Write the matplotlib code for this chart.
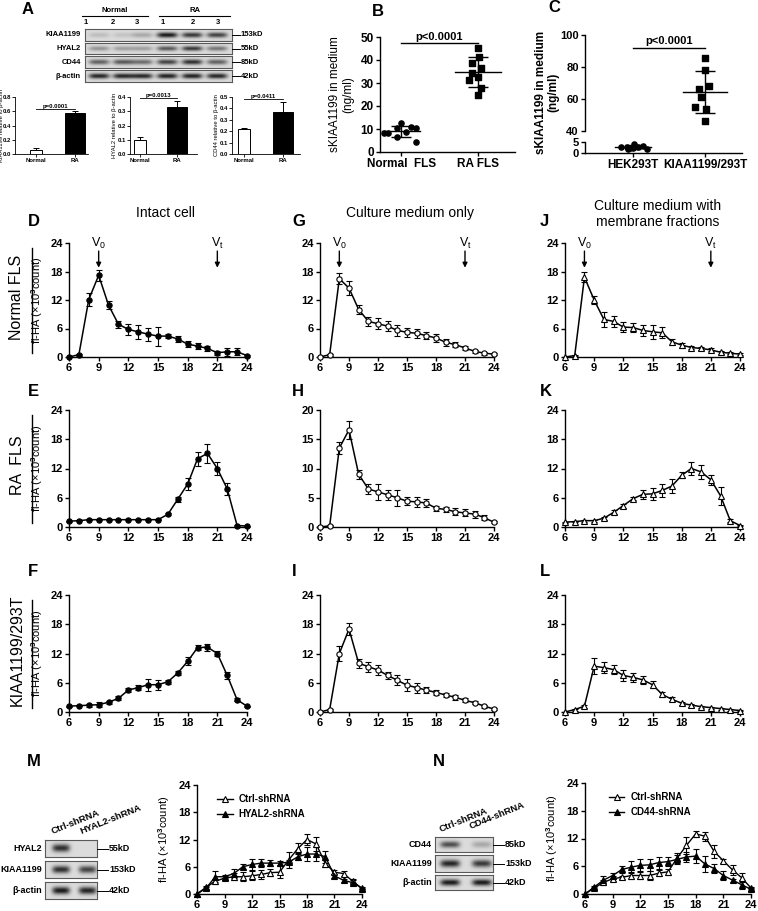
import numpy as np
import matplotlib
matplotlib.use('Agg')
import matplotlib.pyplot as plt
from matplotlib.lines import Line2D

plt.rcParams['font.family'] = 'Liberation Sans'
plt.rcParams['font.weight'] = 'bold'
plt.rcParams['mathtext.fontset'] = 'custom'
plt.rcParams['mathtext.rm'] = 'Liberation Sans'
plt.rcParams['mathtext.bf'] = 'Liberation Sans:bold'
plt.rcParams['mathtext.default'] = 'regular'

# ---------------- data ----------------
# A: western blot densities (0..1) and quantification
blot_a_rows = ['KIAA1199', 'HYAL2', 'CD44', 'β-actin']
blot_a_sizes = ['153kD', '55kD', '85kD', '42kD']
blot_a_dens = [[0.15, 0.12, 0.25, 0.95, 0.80, 0.75],
               [0.35, 0.30, 0.30, 0.65, 0.80, 0.50],
               [0.60, 0.65, 0.55, 0.75, 0.85, 0.60],
               [0.90, 0.90, 0.90, 0.92, 0.92, 0.90]]
bar_groups = ['Normal', 'RA']
kiaa_rel = [0.05, 0.57]
kiaa_rel_err = [0.03, 0.035]
hyal2_rel = [0.10, 0.33]
hyal2_rel_err = [0.02, 0.045]
cd44_rel = [0.22, 0.37]
cd44_rel_err = [0.01, 0.085]

# B: sKIAA1199 in medium (ng/ml)
b_groups = ['Normal  FLS', 'RA FLS']
b_normal = [8.1, 8.1, 10.3, 12.5, 8.8, 11.0, 10.3, 4.5, 6.7]
b_normal_dx = [-0.23, -0.18, -0.06, 0.0, 0.06, 0.12, 0.19, 0.19, -0.06]
b_ra = [45.1, 41.4, 38.6, 36.4, 34.2, 32.7, 31.3, 27.7, 24.8]
b_ra_dx = [0.0, 0.02, -0.07, 0.04, -0.07, 0.0, -0.11, 0.04, 0.0]

# C
c_groups = ['HEK293T', 'KIAA1199/293T']
c_hek = [2.9, 2.9, 2.1, 4.1, 2.9, 3.2, 1.7, 1.8, 2.1]
c_hek_dx = [-0.16, -0.09, -0.04, 0.02, 0.07, 0.14, 0.19, -0.07, 0.0]
c_kiaa = [85.7, 78.0, 68.0, 66.0, 61.0, 55.0, 54.0, 46.0]
c_kiaa_dx = [0.0, 0.0, 0.05, -0.09, -0.05, -0.14, 0.02, 0.0]

# D-L: gel filtration elution profiles, fl-HA (x10^3 count)
fractions = [6, 7, 8, 9, 10, 11, 12, 13, 14, 15, 16, 17, 18, 19, 20, 21, 22, 23, 24]
D_y = [0, 0.5, 12.1, 17.2, 10.9, 6.9, 5.8, 5.3, 4.8, 4.4, 4.4, 3.8, 2.7, 2.3, 1.8, 0.9, 1.1, 1.1, 0.3]
D_err = [0.1, 0.2, 1.3, 1.2, 0.8, 0.7, 1.1, 1.5, 1.4, 2.0, 0.5, 0.6, 0.6, 0.6, 0.6, 0.4, 0.8, 0.7, 0.2]
E_y = [1.2, 1.3, 1.5, 1.5, 1.5, 1.5, 1.5, 1.5, 1.5, 1.5, 2.6, 5.7, 8.8, 14.0, 15.1, 12.0, 7.8, 0.3, 0.2]
E_err = [0.1, 0.1, 0.1, 0.1, 0.1, 0.1, 0.1, 0.1, 0.1, 0.1, 0.2, 0.5, 1.3, 1.4, 2.0, 1.3, 1.2, 0.2, 0.1]
F_y = [1.2, 1.3, 1.4, 1.5, 2.0, 2.8, 4.5, 5.0, 5.6, 5.6, 6.2, 8.0, 10.4, 13.2, 13.3, 12.0, 7.5, 2.5, 1.2]
F_err = [0.1, 0.1, 0.3, 0.5, 0.3, 0.4, 0.4, 0.5, 1.2, 1.0, 0.4, 0.5, 0.8, 0.5, 0.7, 0.6, 0.8, 0.3, 0.1]
G_y = [0, 0.5, 16.5, 14.5, 10.0, 7.5, 7.0, 6.5, 5.6, 5.2, 5.0, 4.5, 4.0, 3.1, 2.6, 1.9, 1.2, 0.8, 0.6]
G_err = [0.1, 0.2, 1.2, 1.5, 1.0, 1.0, 1.2, 1.0, 1.1, 1.0, 1.0, 0.8, 0.8, 0.7, 0.5, 0.5, 0.3, 0.3, 0.2]
H_y = [0, 0.2, 13.5, 16.6, 9.0, 6.5, 6.0, 5.5, 5.0, 4.4, 4.3, 4.1, 3.2, 3.0, 2.6, 2.4, 2.2, 1.6, 0.8]
H_err = [0.1, 0.1, 1.0, 1.5, 0.8, 0.8, 1.4, 0.8, 1.4, 0.7, 0.8, 0.7, 0.4, 0.4, 0.6, 0.6, 0.6, 0.4, 0.2]
I_y = [0, 0.5, 12.0, 17.0, 10.0, 9.3, 8.6, 7.5, 6.5, 5.5, 5.0, 4.5, 4.0, 3.5, 3.0, 2.4, 1.9, 1.2, 0.6]
I_err = [0.1, 0.2, 1.5, 1.2, 0.9, 1.0, 1.0, 0.8, 1.0, 1.2, 1.0, 0.7, 0.6, 0.5, 0.5, 0.4, 0.3, 0.3, 0.2]
J_y = [0, 0.3, 16.8, 12.0, 7.9, 7.5, 6.3, 6.2, 5.6, 5.3, 5.1, 3.2, 2.5, 2.0, 1.8, 1.5, 1.0, 0.8, 0.6]
J_err = [0.1, 0.1, 1.0, 0.8, 1.5, 1.2, 1.0, 0.9, 1.2, 1.5, 1.2, 0.6, 0.5, 0.4, 0.4, 0.3, 0.3, 0.2, 0.2]
K_y = [1.0, 1.1, 1.3, 1.3, 1.8, 3.0, 4.4, 5.8, 6.7, 6.8, 7.5, 8.4, 10.6, 12.0, 11.3, 9.7, 6.4, 1.3, 0.3]
K_err = [0.1, 0.1, 0.2, 0.2, 0.3, 0.4, 0.4, 0.3, 0.9, 1.3, 1.3, 1.4, 0.6, 1.4, 1.5, 1.0, 1.8, 0.3, 0.1]
L_y = [0, 0.5, 1.2, 9.4, 9.1, 8.7, 7.5, 7.1, 6.6, 5.6, 3.6, 2.6, 1.8, 1.4, 1.1, 0.9, 0.7, 0.5, 0.3]
L_err = [0.1, 0.2, 0.3, 1.6, 1.2, 1.0, 1.1, 0.9, 0.8, 0.7, 0.6, 0.4, 0.3, 0.3, 0.2, 0.2, 0.2, 0.2, 0.1]

# M / N: knockdown
m_rows = ['HYAL2', 'KIAA1199', 'β-actin']
m_sizes = ['55kD', '153kD', '42kD']
m_dens = [[0.85, 0.0], [0.85, 0.75], [0.95, 0.9]]
M_ctrl = [0, 1.5, 2.8, 3.5, 3.8, 3.8, 4.0, 4.3, 4.7, 4.8, 7.5, 10.0, 12.0, 11.0, 6.7, 4.8, 4.5, 2.8, 1.2]
M_ctrl_err = [0.1, 0.3, 0.5, 0.4, 0.8, 1.0, 1.0, 0.9, 0.8, 1.3, 1.8, 1.3, 1.3, 1.5, 0.8, 0.5, 0.5, 0.4, 0.2]
M_kd = [0, 1.3, 3.8, 3.8, 4.5, 6.0, 6.5, 6.8, 6.8, 6.8, 7.0, 8.2, 8.8, 8.8, 8.2, 4.0, 3.0, 2.5, 1.3]
M_kd_err = [0.1, 0.3, 1.2, 0.3, 1.0, 0.5, 1.3, 0.8, 0.7, 0.5, 0.5, 0.8, 1.5, 1.5, 1.3, 0.4, 0.3, 0.5, 0.2]
n_rows = ['CD44', 'KIAA1199', 'β-actin']
n_sizes = ['85kD', '153kD', '42kD']
n_dens = [[0.7, 0.25], [0.9, 0.8], [0.95, 0.95]]
N_ctrl = [0, 1.3, 2.5, 3.3, 3.6, 4.0, 4.0, 4.0, 4.5, 4.8, 7.8, 10.5, 13.0, 12.5, 9.2, 7.2, 5.2, 3.5, 1.3]
N_ctrl_err = [0.1, 0.3, 0.5, 0.5, 0.4, 0.8, 0.8, 1.0, 0.6, 0.6, 1.0, 1.8, 0.7, 1.0, 1.5, 0.4, 1.0, 1.0, 0.3]
N_kd = [0, 1.5, 3.0, 4.0, 5.3, 5.8, 6.2, 6.3, 6.8, 7.0, 7.5, 8.0, 8.2, 6.5, 5.5, 4.0, 3.0, 2.0, 1.0]
N_kd_err = [0.1, 0.3, 0.8, 0.6, 0.7, 1.3, 1.3, 1.3, 1.3, 1.0, 1.0, 1.0, 1.5, 1.8, 1.0, 1.0, 0.3, 1.0, 0.3]

W, H = 758, 911
fig = plt.figure(figsize=(W / 100, H / 100), dpi=100)


def box(x0, y0, x1, y1):
    return fig.add_axes([x0 / W, 1 - y1 / H, (x1 - x0) / W, (y1 - y0) / H])


def ftext(x, y, s, **kw):
    fig.text(x / W, 1 - y / H, s, **kw)


def fline(x0, y0, x1, y1, lw=1.0):
    fig.add_artist(Line2D([x0 / W, x1 / W], [1 - y0 / H, 1 - y1 / H],
                          transform=fig.transFigure, color='black', lw=lw))


def clean(ax, size=8):
    ax.spines['top'].set_visible(False)
    ax.spines['right'].set_visible(False)
    ax.tick_params(labelsize=size, length=3, width=1, pad=1.5)
    for s in ('left', 'bottom'):
        ax.spines[s].set_linewidth(1)


def blot(ax, lanes, dens, half_w):
    xs = np.linspace(0, 1, 300)
    ys = np.linspace(0, 1, 60)
    X, Y = np.meshgrid(xs, ys)
    dark = np.zeros_like(X)
    for c, d in zip(lanes, dens):
        dark += d * np.exp(-np.abs((X - c) / half_w) ** 4) * np.exp(-((Y - 0.5) / 0.22) ** 2)
    img = 0.86 - 0.8 * np.clip(dark, 0, 1)
    ax.imshow(img, cmap='gray', vmin=0, vmax=1, extent=(0, 1, 0, 1),
              aspect='auto', interpolation='bilinear')
    ax.set_xticks([])
    ax.set_yticks([])
    for s in ax.spines.values():
        s.set_linewidth(0.8)
        s.set_color('0.35')


# ---------------- A ----------------
ftext(22, 9, 'A', fontsize=12, va='center')
ftext(115, 10, 'Normal', fontsize=5.5, ha='center', va='center')
ftext(195, 10, 'RA', fontsize=5.5, ha='center', va='center')
fline(82, 16, 148, 16, 0.8)
fline(159, 16, 230, 16, 0.8)
for lx, lab in zip([86, 113, 137, 163, 193, 218], ['1', '2', '3', '1', '2', '3']):
    ftext(lx, 23, lab, fontsize=5.5, ha='center', va='center')
a_rows_y = [(29, 41), (43, 54), (56, 68), (70, 82)]
for (y0, y1), name, size, dens in zip(a_rows_y, blot_a_rows, blot_a_sizes, blot_a_dens):
    ax = box(85, y0, 232, y1)
    blot(ax, [0.095, 0.26, 0.39, 0.56, 0.73, 0.90], dens, 0.07)
    yc = (y0 + y1) / 2
    ftext(81, yc, name, fontsize=5.5, ha='right', va='center')
    fline(232, yc, 240, yc, 0.7)
    ftext(241, yc, size, fontsize=5.5, ha='left', va='center')


def small_bar(x0, x1, cn, cr, vals, errs, ymax, step, p_y, p_txt, ylab, ylab_x):
    ax = box(x0, 97, x1, 154)
    u = cr - cn
    ax.set_xlim((x0 - cn) / u, (x1 - cn) / u)
    ax.bar([0, 1], vals, width=[12 / u, 20 / u], color=['white', 'black'],
           edgecolor='black', lw=0.7)
    ax.errorbar([0, 1], vals, yerr=[[0, 0], errs], fmt='none', ecolor='black',
                capsize=2, elinewidth=0.7, capthick=0.7)
    ax.set_ylim(0, ymax)
    ticks = np.arange(0, ymax + 1e-9, step)
    ax.set_yticks(ticks)
    ax.set_yticklabels(['%.1f' % t for t in ticks])
    ax.set_xticks([0, 1])
    ax.set_xticklabels(bar_groups)
    clean(ax, 4.3)
    ax.tick_params(length=2, width=0.6, pad=1)
    for s in ('left', 'bottom'):
        ax.spines[s].set_linewidth(0.6)
    ax.plot([0, 1], [p_y, p_y], color='black', lw=0.6)
    ax.text(0.5, p_y, p_txt, fontsize=4.3, ha='center', va='bottom')
    ax.set_ylabel(ylab, fontsize=4.2, labelpad=1)
    ax.yaxis.set_label_coords((ylab_x - x0) / (x1 - x0), 0.5)


small_bar(15, 88, 36, 75, kiaa_rel, kiaa_rel_err, 0.8, 0.2, 0.63, 'p=0.0001',
          'KIAA1199 relative to β-actin', 4)
small_bar(130, 197, 140, 177, hyal2_rel, hyal2_rel_err, 0.4, 0.1, 0.39, 'p=0.0013',
          'HYAL2 relative to β-actin', 117)
small_bar(232, 300, 244, 283, cd44_rel, cd44_rel_err, 0.5, 0.1, 0.48, 'p=0.0411',
          'CD44 relative to β-actin', 219)


def mean_sd(ax, x, vals, half, cap):
    m = np.mean(vals)
    sd = np.std(vals, ddof=1)
    ax.plot([x - half, x + half], [m, m], color='black', lw=1)
    ax.errorbar([x], [m], yerr=[sd], fmt='none', ecolor='black', elinewidth=1,
                capsize=cap, capthick=1)


# ---------------- B ----------------
ftext(372, 12, 'B', fontsize=12, va='center')
axb = box(380, 37, 515, 152)
axb.set_xlim(-0.28, 1.49)
axb.set_ylim(0, 50)
axb.scatter(np.array(b_normal_dx), b_normal, s=14, marker='o', color='black', zorder=3)
axb.scatter(1 + np.array(b_ra_dx), b_ra, s=16, marker='s', color='black', zorder=3)
mean_sd(axb, 0, b_normal, 0.25, 7)
mean_sd(axb, 1, b_ra, 0.3, 7)
axb.plot([0, 1], [47.5, 47.5], color='black', lw=1)
axb.text(0.5, 48.0, 'p<0.0001', fontsize=8, ha='center', va='bottom')
axb.set_yticks([0, 10, 20, 30, 40, 50])
axb.set_xticks([0, 1])
axb.set_xticklabels(b_groups)
clean(axb, 8.5)
axb.set_ylabel('sKIAA1199 in medium\n(ng/ml)', fontsize=8.5, linespacing=1.1)
axb.yaxis.set_label_coords(-0.19, 0.5)

# ---------------- C ----------------
ftext(548, 8, 'C', fontsize=12, va='center')
u_c = 72.0
c_xlim = ((585 - 633) / u_c, (742 - 633) / u_c)
axc_top = box(585, 35, 742, 131)
axc_bot = box(585, 142, 742, 153)
for ax in (axc_top, axc_bot):
    ax.set_xlim(*c_xlim)
axc_top.set_ylim(40, 100)
axc_bot.set_ylim(0, 5)
axc_bot.scatter(np.array(c_hek_dx), c_hek, s=14, marker='o', color='black', zorder=3, clip_on=False)
axc_top.scatter(1 + np.array(c_kiaa_dx), c_kiaa, s=16, marker='s', color='black', zorder=3)
mean_sd(axc_bot, 0, c_hek, 0.25, 6)
mean_sd(axc_top, 1, c_kiaa, 0.3, 7)
axc_top.plot([0, 1], [92, 92], color='black', lw=1)
axc_top.text(0.5, 93, 'p<0.0001', fontsize=8, ha='center', va='bottom')
axc_top.set_yticks([40, 60, 80, 100])
axc_top.set_xticks([])
axc_bot.set_yticks([0, 5])
axc_bot.set_xticks([0, 1])
axc_bot.set_xticklabels(c_groups)
clean(axc_top, 8)
clean(axc_bot, 8)
axc_bot.tick_params(axis='x', labelsize=8.5)
axc_top.spines['bottom'].set_visible(False)
ftext(547, 92, 'sKIAA1199 in medium\n(ng/ml)', fontsize=8.5, rotation=90,
      ha='center', va='center', linespacing=1.1)

# ---------------- D - L ----------------
cols = [(69, 247), (320, 494), (565, 740)]
rows = [(243, 357), (410, 527), (595, 712)]
profiles = [[(D_y, D_err), (G_y, G_err), (J_y, J_err)],
            [(E_y, E_err), (H_y, H_err), (K_y, K_err)],
            [(F_y, F_err), (I_y, I_err), (L_y, L_err)]]
col_marker = [('o', 'black'), ('o', 'white'), ('^', 'white')]
letters = [['D', 'G', 'J'], ['E', 'H', 'K'], ['F', 'I', 'L']]
letter_x = [28, 292, 540]
letter_y = [222, 392, 572]
row_names = ['Normal FLS', 'RA  FLS', 'KIAA1199/293T']
v0_pos = [9, 8, 8]

for r, (y0, y1) in enumerate(rows):
    for c, (x0, x1) in enumerate(cols):
        ax = box(x0, y0, x1, y1)
        yv, ye = profiles[r][c]
        mk, fc = col_marker[c]
        ax.errorbar(fractions, yv, yerr=ye, color='black', lw=1.1, marker=mk,
                    ms=3.8 if mk == 'o' else 4.2, mfc=fc, mec='black', mew=0.8,
                    capsize=2, elinewidth=0.8, capthick=0.8, clip_on=False, zorder=3)
        ymax, step = (20, 5) if letters[r][c] == 'H' else (24, 6)
        ax.set_xlim(6, 24)
        ax.set_ylim(0, ymax)
        ax.set_xticks([6, 9, 12, 15, 18, 21, 24])
        ax.set_yticks(list(range(0, ymax + 1, step)))
        clean(ax, 8)
        ftext(letter_x[c], letter_y[r], letters[r][c], fontsize=12, va='center')
        if r == 0:
            for xv, sub in ((v0_pos[c], '0'), (21, 't')):
                ax.annotate('', xy=(xv, 18.8), xytext=(xv, 22.3),
                            arrowprops=dict(arrowstyle='-|>', color='black', lw=1,
                                            mutation_scale=7, shrinkA=0, shrinkB=0),
                            annotation_clip=False)
                ax.text(xv, 22.4, 'V$_{%s}$' % sub, fontsize=9, fontweight='normal',
                        ha='center', va='bottom', clip_on=False)
        if c == 0:
            ax.set_ylabel('fl-HA (×10$^{\\mathbf{3}}$count)', fontsize=8)
            ax.yaxis.set_label_coords(-0.135, 0.5)
    fline(32, y0 + 5, 32, y1 - 4, 1)
    ftext(17, (y0 + y1) / 2 - 3, row_names[r], fontsize=11.5, fontweight='normal',
          rotation=90, ha='center', va='center')

ftext(165, 213, 'Intact cell', fontsize=10, fontweight='normal', ha='center', va='center')
ftext(410, 213, 'Culture medium only', fontsize=10, fontweight='normal', ha='center', va='center')
ftext(658, 214, 'Culture medium with\nmembrane fractions', fontsize=10, fontweight='normal',
      ha='center', va='center', linespacing=1.1)

# ---------------- M / N ----------------


def knock_panel(letter, lx, blot_x, rows_y, names, sizes, dens, lanes, lane_labels,
                lane_xy, chart_box, ctrl, ctrl_err, kd, kd_err, kd_label, legend_xy):
    ftext(lx, 762, letter, fontsize=12, va='center')
    bx0, bx1 = blot_x
    for (y0, y1), name, size, d in zip(rows_y, names, sizes, dens):
        ax = box(bx0, y0, bx1, y1)
        blot(ax, lanes, d, 0.17)
        yc = (y0 + y1) / 2
        ftext(bx0 - 3, yc, name, fontsize=6.5, ha='right', va='center')
        fline(bx1, yc, bx1 + 11, yc, 0.7)
        ftext(bx1 + 12, yc, size, fontsize=6.5, ha='left', va='center')
    for (tx, ty), lab in zip(lane_xy, lane_labels):
        ftext(tx, ty, lab, fontsize=6.8, rotation=22, ha='left', va='bottom',
              rotation_mode='anchor')
    x0, y0, x1, y1 = chart_box
    ax = box(x0, y0, x1, y1)
    ax.errorbar(fractions, ctrl, yerr=ctrl_err, color='black', lw=1.0, marker='^', ms=4,
                mfc='white', mec='black', mew=0.8, capsize=2, elinewidth=0.8,
                capthick=0.8, clip_on=False, label='Ctrl-shRNA', zorder=3)
    ax.errorbar(fractions, kd, yerr=kd_err, color='black', lw=1.0, marker='^', ms=4,
                mfc='black', mec='black', mew=0.8, capsize=2, elinewidth=0.8,
                capthick=0.8, clip_on=False, label=kd_label, zorder=3)
    ax.set_xlim(6, 24)
    ax.set_ylim(0, 24)
    ax.set_xticks([6, 9, 12, 15, 18, 21, 24])
    ax.set_yticks([0, 6, 12, 18, 24])
    clean(ax, 8)
    ax.set_ylabel('fl-HA (×10$^{\\mathbf{3}}$count)', fontsize=8)
    ax.yaxis.set_label_coords(-0.15, 0.5)
    h, l = ax.get_legend_handles_labels()
    h = [hh[0] for hh in h]
    ax.legend(h, l, loc='upper left', bbox_to_anchor=legend_xy, frameon=False,
              fontsize=7, handlelength=1.6, handletextpad=0.6, borderaxespad=0,
              labelspacing=0.5)


knock_panel('M', 27, (45, 97), [(840, 857), (861, 878), (882, 899)], m_rows, m_sizes,
            m_dens, [0.31, 0.82], ['Ctrl-shRNA', 'HYAL2-shRNA'], [(53, 836), (82, 836)],
            (197, 785, 362, 894), M_ctrl, M_ctrl_err, M_kd, M_kd_err, 'HYAL2-shRNA',
            (0.1, 0.95))
knock_panel('N', 433, (435, 493), [(837, 852), (855, 872), (875, 890)], n_rows, n_sizes,
            n_dens, [0.26, 0.81], ['Ctrl-shRNA', 'CD44-shRNA'], [(441, 834), (471, 831)],
            (585, 783, 751, 894), N_ctrl, N_ctrl_err, N_kd, N_kd_err, 'CD44-shRNA',
            (0.12, 0.95))

fig.savefig('out.png', dpi=100)
